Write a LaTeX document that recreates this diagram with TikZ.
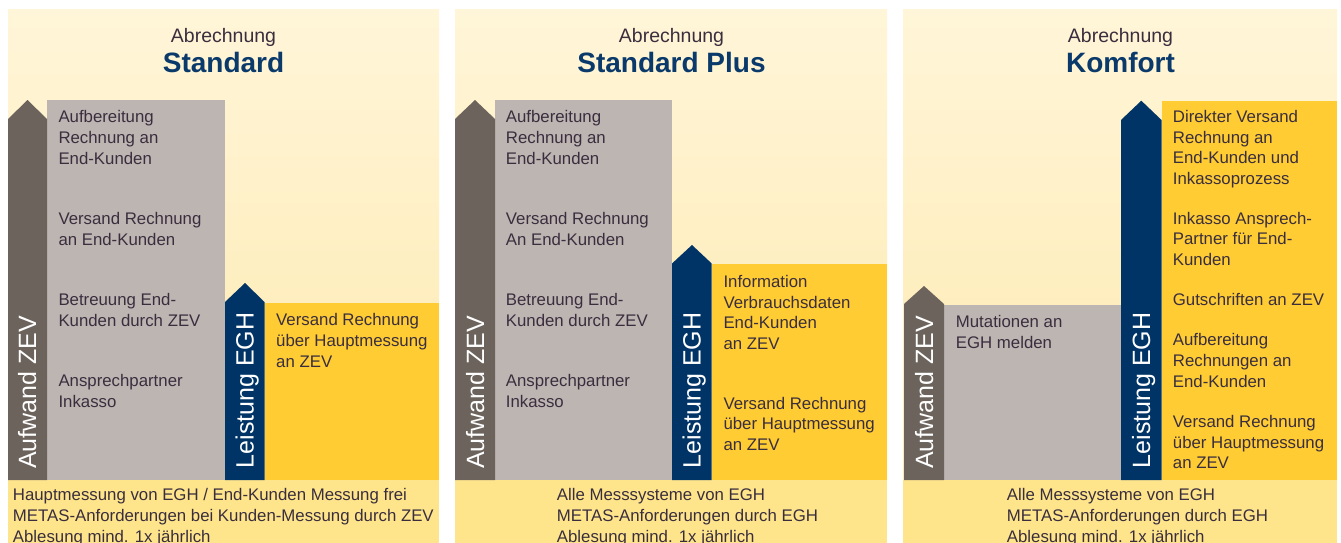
\documentclass[tikz,border=0pt]{standalone}
\usepackage{fontspec}
\setmainfont{Liberation Sans}
\definecolor{bgtop}{HTML}{FFF5D8}
\definecolor{bgbot}{HTML}{FEEAB0}
\definecolor{band}{HTML}{FEE58C}
\definecolor{arrowgray}{HTML}{6B635C}
\definecolor{boxgray}{HTML}{BDB5B2}
\definecolor{navy}{HTML}{003466}
\definecolor{gold}{HTML}{FFCC33}
\definecolor{txt}{HTML}{3A2E3E}
\definecolor{titlenavy}{HTML}{0A3A6B}
\tikzset{
  body/.style={anchor=north west, inner sep=0pt, align=left, text=txt,
    font=\fontsize{16.8}{20.7}\selectfont},
  ttla/.style={anchor=base, inner sep=0pt, text=txt, font=\fontsize{19.5}{22}\selectfont},
  ttlb/.style={anchor=base, inner sep=0pt, text=titlenavy, font=\fontsize{28}{32}\selectfont\bfseries},
  vlabel/.style={anchor=base west, inner sep=0pt, rotate=90, text=white,
    font=\fontsize{25}{28}\selectfont},
}
\begin{document}
\begin{tikzpicture}[x=1pt,y=-1pt]
\useasboundingbox (0,0) rectangle (1341,543);
\fill[white] (0,0) rectangle (1341,543);
% panel backgrounds
\shade[top color=bgtop,bottom color=bgbot] (8,10) rectangle (439,480);
\shade[top color=bgtop,bottom color=bgbot] (455,10) rectangle (887,480);
\shade[top color=bgtop,bottom color=bgbot] (903,10) rectangle (1337,480);
\fill[band] (8,480) rectangle (439,543);
\fill[band] (455,480) rectangle (887,543);
\fill[band] (903,480) rectangle (1337,543);

% ---------- Panel 1 ----------
\fill[boxgray] (47,100) rectangle (225,480);
\fill[arrowgray] (8,480) -- (8,119) -- (27.5,100) -- (47,119) -- (47,480) -- cycle;
\fill[gold] (264.5,303) rectangle (439,480);
\fill[navy] (225,480) -- (225,302) -- (245,283) -- (264.5,302) -- (264.5,480) -- cycle;
\node[ttla] (t1a) at (223.5,43) {Abrechnung};
\node[ttlb] (t1b) at (223.5,73) {Standard};
\node[body] (g1a) at (58.3,110.5) {Aufbereitung\\Rechnung an\\End-Kunden};
\node[body] (g1b) at (58.3,212.5) {Versand Rechnung\\an End-Kunden};
\node[body] (g1c) at (58.3,293.3) {Betreuung End-\\Kunden durch ZEV};
\node[body] (g1d) at (58.3,374) {Ansprechpartner\\Inkasso};
\node[body] (y1a) at (276,313.3) {Versand Rechnung\\über Hauptmessung\\an ZEV};
\node[vlabel] (a1) at (36,469) {Aufwand ZEV};
\node[vlabel] (l1) at (253.5,468.5) {Leistung EGH};
\node[body] (b1) at (12.7,488.3) {Hauptmessung von EGH / End-Kunden Messung frei\\METAS-Anforderungen bei Kunden-Messung durch ZEV\\Ablesung mind. 1x jährlich};

% ---------- Panel 2 ----------
\fill[boxgray] (495,100) rectangle (672,480);
\fill[arrowgray] (455,480) -- (455,119) -- (475,100) -- (495,119) -- (495,480) -- cycle;
\fill[gold] (711.7,264.3) rectangle (886.7,480);
\fill[navy] (672,480) -- (672,263.5) -- (692,245) -- (711.7,263.5) -- (711.7,480) -- cycle;
\node[ttla] (t2a) at (671.5,43) {Abrechnung};
\node[ttlb] (t2b) at (671.5,73) {Standard Plus};
\node[body] (g2a) at (505.7,110.5) {Aufbereitung\\Rechnung an\\End-Kunden};
\node[body] (g2b) at (505.7,212.5) {Versand Rechnung\\An End-Kunden};
\node[body] (g2c) at (505.7,293.3) {Betreuung End-\\Kunden durch ZEV};
\node[body] (g2d) at (505.7,374) {Ansprechpartner\\Inkasso};
\node[body] (y2a) at (723.3,275) {Information\\Verbrauchsdaten\\End-Kunden\\an ZEV};
\node[body] (y2b) at (723.3,396.7) {Versand Rechnung\\über Hauptmessung\\an ZEV};
\node[vlabel] (a2) at (484,469) {Aufwand ZEV};
\node[vlabel] (l2) at (700.5,468.5) {Leistung EGH};
\node[body] (b2) at (556.7,488.3) {Alle Messsysteme von EGH\\METAS-Anforderungen durch EGH\\Ablesung mind. 1x jährlich};

% ---------- Panel 3 ----------
\fill[boxgray] (944,305) rectangle (1121,480);
\fill[arrowgray] (904,480) -- (904,304) -- (924,286) -- (944,304) -- (944,480) -- cycle;
\fill[gold] (1161.5,101) rectangle (1336.7,480);
\fill[navy] (1121,480) -- (1121,120) -- (1141.3,100.7) -- (1161.5,120) -- (1161.5,480) -- cycle;
\node[ttla] (t3a) at (1120.5,43) {Abrechnung};
\node[ttlb] (t3b) at (1120.5,73) {Komfort};
\node[body] (g3a) at (955.7,315) {Mutationen an\\EGH melden};
\node[body] (y3a) at (1172.7,110) {Direkter Versand\\Rechnung an\\End-Kunden und\\Inkassoprozess};
\node[body] (y3b) at (1172.7,211.7) {Inkasso Ansprech-\\Partner für End-\\Kunden};
\node[body] (y3c) at (1172.7,293.3) {Gutschriften an ZEV};
\node[body] (y3d) at (1172.7,333.3) {Aufbereitung\\Rechnungen an\\End-Kunden};
\node[body] (y3e) at (1172.7,415) {Versand Rechnung\\über Hauptmessung\\an ZEV};
\node[vlabel] (a3) at (933,469) {Aufwand ZEV};
\node[vlabel] (l3) at (1150,468.5) {Leistung EGH};
\node[body] (b3) at (1006.7,488.3) {Alle Messsysteme von EGH\\METAS-Anforderungen durch EGH\\Ablesung mind. 1x jährlich};
\end{tikzpicture}
\end{document}
